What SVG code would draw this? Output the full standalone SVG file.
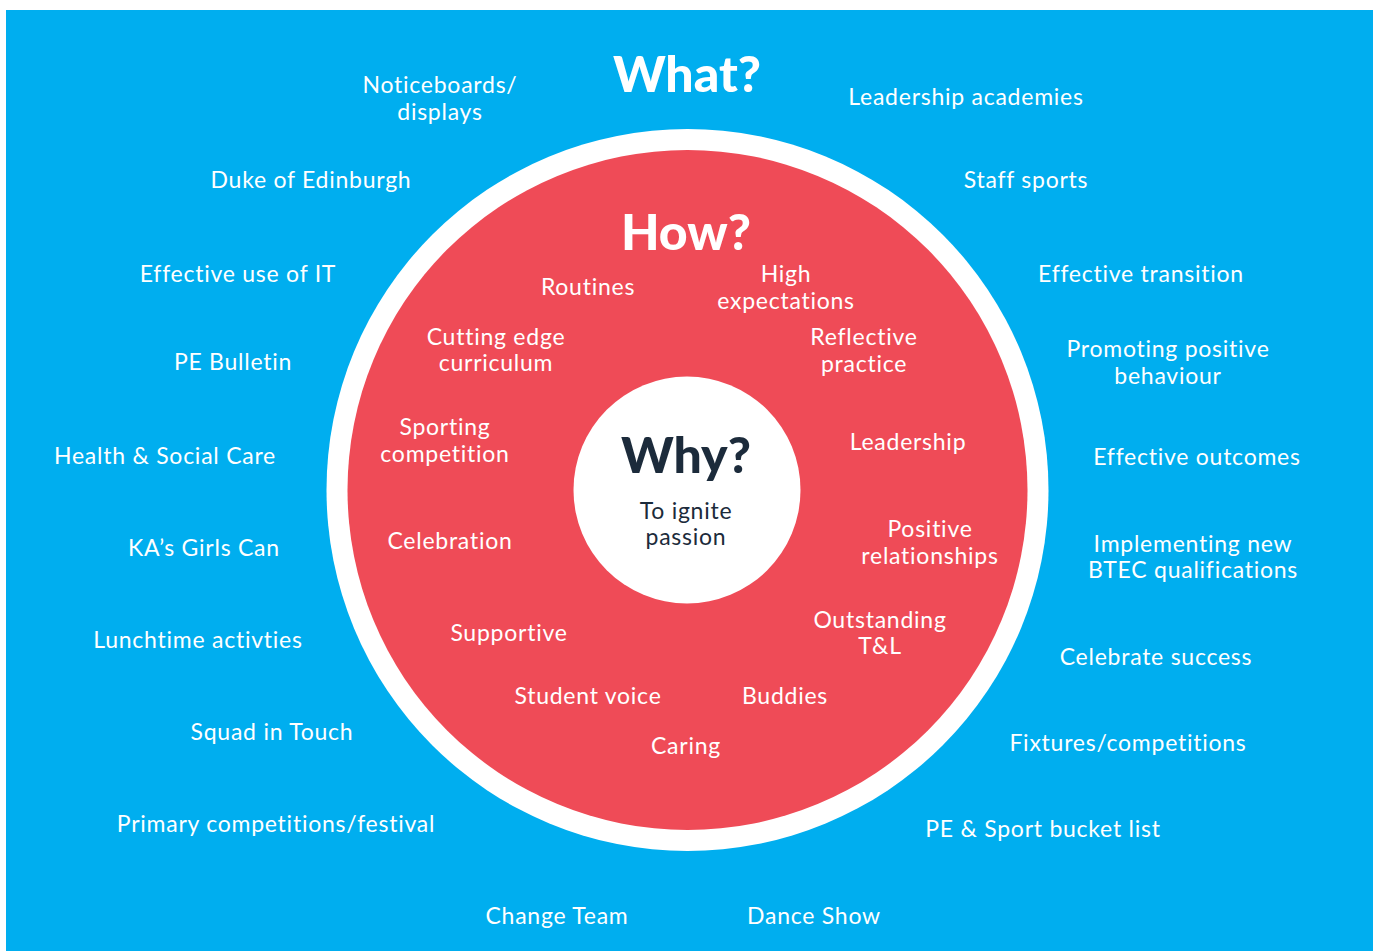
<svg xmlns="http://www.w3.org/2000/svg" width="1373" height="951" viewBox="0 0 1373 951">
<style>
text{font-family:"Lato","Open Sans","Liberation Sans",sans-serif;text-anchor:middle;}
.t{font-size:23px;fill:#ffffff;letter-spacing:0.75px;}
.h{font-size:50px;font-weight:900;fill:#ffffff;}
.w{font-size:50px;font-weight:900;fill:#1c2b3b;}
.d{font-size:23px;fill:#1c2b3b;letter-spacing:0.75px;}
</style>
<rect width="1373" height="951" fill="#ffffff"/>
<rect x="6" y="10" width="1367" height="941" fill="#00aeef"/>
<g id="ring">
<circle cx="687.5" cy="490" r="361" fill="#ffffff"/>
<circle cx="687.5" cy="490" r="340" fill="#ef4b57"/>
<circle cx="687" cy="490" r="113.5" fill="#ffffff"/>
</g>
<g id="connectors"></g>
<g id="what" transform="translate(0,1)">
<text class="h" x="687" y="91">What?</text>
<g id="n-notice"><text class="t" x="440" y="92">Noticeboards/</text><text class="t" x="440" y="119">displays</text></g>
<g id="n-duke"><text class="t" x="311" y="187">Duke of Edinburgh</text></g>
<g id="n-it"><text class="t" x="238" y="281">Effective use of IT</text></g>
<g id="n-bulletin"><text class="t" x="233" y="369">PE Bulletin</text></g>
<g id="n-health"><text class="t" x="165" y="463">Health &amp; Social Care</text></g>
<g id="n-girls"><text class="t" x="204" y="555">KA’s Girls Can</text></g>
<g id="n-lunch"><text class="t" x="198" y="647">Lunchtime activties</text></g>
<g id="n-squad"><text class="t" x="272" y="739">Squad in Touch</text></g>
<g id="n-primary"><text class="t" x="276" y="831">Primary competitions/festival</text></g>
<g id="n-change"><text class="t" x="557" y="923">Change Team</text></g>
<g id="n-dance"><text class="t" x="814" y="923">Dance Show</text></g>
<g id="n-leadacad"><text class="t" x="966" y="104">Leadership academies</text></g>
<g id="n-staff"><text class="t" x="1026" y="187">Staff sports</text></g>
<g id="n-transition"><text class="t" x="1141" y="281">Effective transition</text></g>
<g id="n-promoting"><text class="t" x="1168" y="356">Promoting positive</text><text class="t" x="1168" y="383">behaviour</text></g>
<g id="n-outcomes"><text class="t" x="1197" y="464">Effective outcomes</text></g>
<g id="n-btec"><text class="t" x="1193" y="551">Implementing new</text><text class="t" x="1193" y="577">BTEC qualifications</text></g>
<g id="n-celebrate"><text class="t" x="1156" y="664">Celebrate success</text></g>
<g id="n-fixtures"><text class="t" x="1128" y="750">Fixtures/competitions</text></g>
<g id="n-bucket"><text class="t" x="1043" y="836">PE &amp; Sport bucket list</text></g>
</g>
<g id="how" transform="translate(0,1)">
<text class="h" x="686" y="249">How?</text>
<g id="n-routines"><text class="t" x="588" y="294">Routines</text></g>
<g id="n-high"><text class="t" x="786" y="281">High</text><text class="t" x="786" y="308">expectations</text></g>
<g id="n-cutting"><text class="t" x="496" y="344">Cutting edge</text><text class="t" x="496" y="370">curriculum</text></g>
<g id="n-reflective"><text class="t" x="864" y="344">Reflective</text><text class="t" x="864" y="371">practice</text></g>
<g id="n-sporting"><text class="t" x="445" y="434">Sporting</text><text class="t" x="445" y="461">competition</text></g>
<g id="n-leadership"><text class="t" x="908" y="449">Leadership</text></g>
<g id="n-celebration"><text class="t" x="450" y="548">Celebration</text></g>
<g id="n-positive"><text class="t" x="930" y="536">Positive</text><text class="t" x="930" y="563">relationships</text></g>
<g id="n-supportive"><text class="t" x="509" y="640">Supportive</text></g>
<g id="n-outstanding"><text class="t" x="880" y="627">Outstanding</text><text class="t" x="880" y="653">T&amp;L</text></g>
<g id="n-voice"><text class="t" x="588" y="703">Student voice</text></g>
<g id="n-buddies"><text class="t" x="785" y="703">Buddies</text></g>
<g id="n-caring"><text class="t" x="686" y="753">Caring</text></g>
</g>
<g id="why" transform="translate(0,1)">
<text class="w" x="686" y="472">Why?</text>
<text class="d" x="686" y="518">To ignite</text>
<text class="d" x="686" y="544">passion</text>
</g>
</svg>
